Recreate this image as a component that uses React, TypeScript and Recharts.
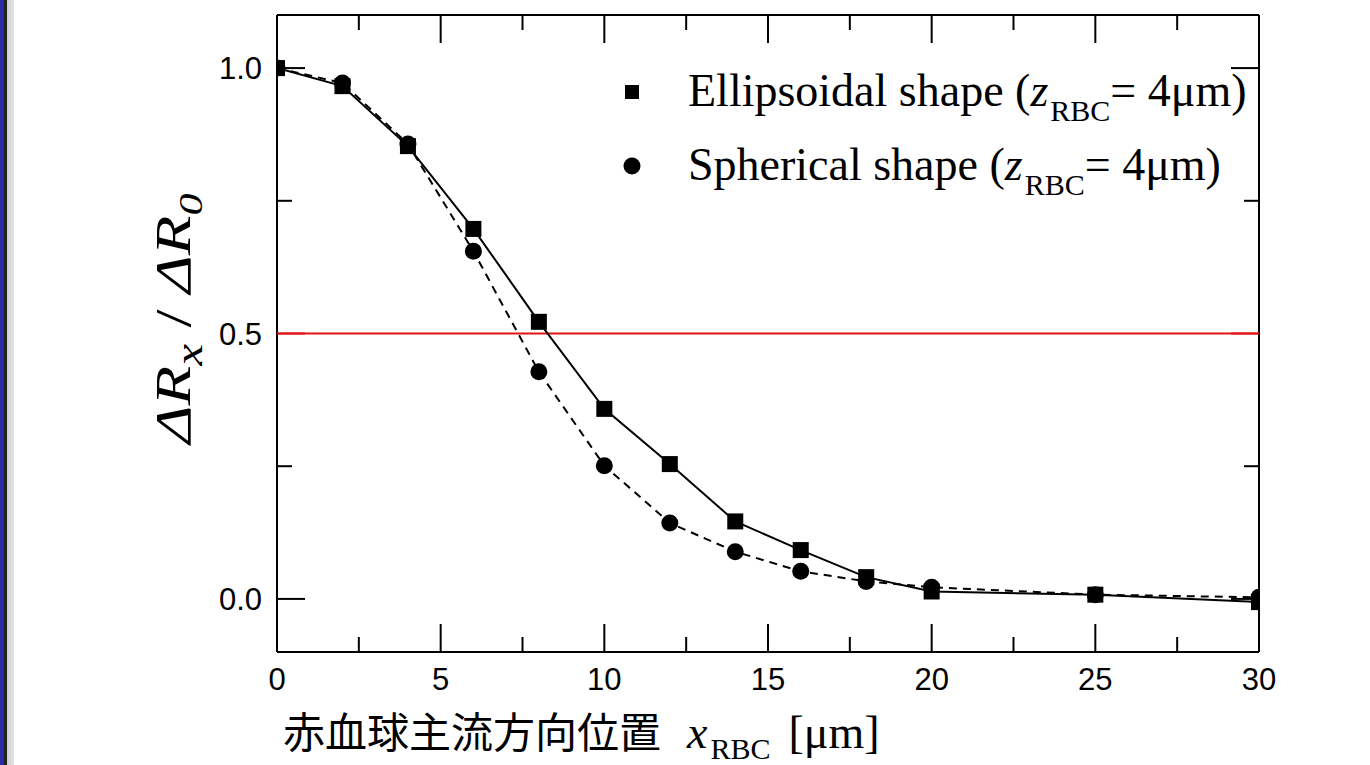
import React from 'react';
import { LineChart, Line, XAxis, YAxis, ReferenceLine, Legend } from 'recharts';

const xPositions = [0, 2, 4, 6, 8, 10, 12, 14, 16, 18, 20, 25, 30];
const ellipsoidalValues = [1.0, 0.966, 0.853, 0.697, 0.522, 0.358, 0.254, 0.146, 0.092, 0.041, 0.014, 0.008, -0.006];
const sphericalValues = [1.0, 0.972, 0.857, 0.655, 0.428, 0.251, 0.143, 0.089, 0.052, 0.033, 0.022, 0.008, 0.003];
const xTicks = [0, 2.5, 5, 7.5, 10, 12.5, 15, 17.5, 20, 22.5, 25, 27.5, 30];
const yTicks = [0, 0.25, 0.5, 0.75, 1.0];
const xMajor = [0, 5, 10, 15, 20, 25, 30];
const yMajor = [0, 0.5, 1.0];
const thresholdValue = 0.5;
const seriesNames = ['Ellipsoidal shape', 'Spherical shape'];

const data = xPositions.map((x, i) => ({ x, ellipsoidal: ellipsoidalValues[i], spherical: sphericalValues[i] }));

const SANS = '"Liberation Sans", Arial, sans-serif';
const SERIF = '"Liberation Serif", "Times New Roman", serif';
const CJK = '"Noto Sans CJK JP", sans-serif';
const RED = '#e01414';
const MAJOR = 28;
const MINOR = 15;

const BottomTick = (props: any) => {
  const { x, y, payload } = props;
  const major = xMajor.includes(payload.value);
  return (
    <g>
      <line x1={x} y1={y} x2={x} y2={y - (major ? MAJOR : MINOR)} stroke="#000" strokeWidth={2} />
      {major && (
        <text x={x} y={y + 38} textAnchor="middle" fontFamily={SANS} fontSize={31} fill="#000">
          {payload.value}
        </text>
      )}
    </g>
  );
};

const TopTick = (props: any) => {
  const { x, y, payload } = props;
  const major = xMajor.includes(payload.value);
  return <line x1={x} y1={y} x2={x} y2={y + (major ? MAJOR : MINOR)} stroke="#000" strokeWidth={2} />;
};

const LeftTick = (props: any) => {
  const { x, y, payload } = props;
  const major = yMajor.includes(payload.value);
  const col = payload.value === thresholdValue ? RED : '#000';
  return (
    <g>
      <line x1={x} y1={y} x2={x + (major ? MAJOR : MINOR)} y2={y} stroke={col} strokeWidth={2} />
      {major && (
        <text x={x - 15} y={y} dy="0.36em" textAnchor="end" fontFamily={SANS} fontSize={31} fill="#000">
          {payload.value.toFixed(1)}
        </text>
      )}
    </g>
  );
};

const RightTick = (props: any) => {
  const { x, y, payload } = props;
  const major = yMajor.includes(payload.value);
  const col = payload.value === thresholdValue ? RED : '#000';
  return <line x1={x} y1={y} x2={x - (major ? MAJOR : MINOR)} y2={y} stroke={col} strokeWidth={2} />;
};

const SquareDot = (props: any) => {
  const { cx, cy, index } = props;
  if (cx == null || cy == null) return <g key={`sq-${index}`} />;
  return <rect key={`sq-${index}`} x={cx - 8} y={cy - 8} width={16} height={16} fill="#000" />;
};

const CircleDot = (props: any) => {
  const { cx, cy, index } = props;
  if (cx == null || cy == null) return <g key={`ci-${index}`} />;
  return <circle key={`ci-${index}`} cx={cx} cy={cy} r={8.5} fill="#000" />;
};

const YLabel = (props: any) => {
  const vb = props.viewBox || {};
  const cx = 190;
  const cy = (vb.y ?? 15) + (vb.height ?? 637) / 2 - 15;
  return (
    <text
      x={cx}
      y={cy}
      transform={`rotate(-90, ${cx}, ${cy})`}
      textAnchor="middle"
      fontFamily={SERIF}
      fontSize={50}
      fill="#000"
      textLength={250}
      lengthAdjust="spacingAndGlyphs"
    >
      <tspan fontStyle="italic">ΔR</tspan>
      <tspan fontStyle="italic" fontSize={38} dy={12}>x</tspan>
      <tspan dy={-12}> / </tspan>
      <tspan fontStyle="italic">ΔR</tspan>
      <tspan fontStyle="italic" fontSize={34} dy={12}>0</tspan>
    </text>
  );
};

const XLabel = (props: any) => {
  const vb = props.viewBox || {};
  const left = vb.x ?? 277;
  const base = 748;
  return (
    <text x={left + 6} y={base} fontSize={42} fill="#000">
      <tspan fontFamily={CJK}>赤血球主流方向位置</tspan>
      <tspan fontFamily={SERIF} fontStyle="italic" fontSize={46} dx={26}>x</tspan>
      <tspan fontFamily={SERIF} fontSize={30} dy={11} dx={3}>RBC</tspan>
      <tspan fontFamily={SERIF} fontSize={46} dy={-11} dx={18}>[μm]</tspan>
    </text>
  );
};

const LegendContent = () => (
  <svg width={700} height={160} style={{ display: 'block' }}>
    <rect x={15} y={30} width={14} height={14} fill="#000" />
    <text x={78} y={51} fontFamily={SERIF} fontSize={46} fill="#000">
      {seriesNames[0]} (<tspan fontStyle="italic">z</tspan>
      <tspan fontSize={30} dy={15} dx={2}>RBC</tspan>
      <tspan dy={-15}>= 4μm)</tspan>
    </text>
    <circle cx={22} cy={111} r={8.5} fill="#000" />
    <text x={78} y={125} fontFamily={SERIF} fontSize={46} fill="#000">
      {seriesNames[1]} (<tspan fontStyle="italic">z</tspan>
      <tspan fontSize={30} dy={15} dx={2}>RBC</tspan>
      <tspan dy={-15}>= 4μm)</tspan>
    </text>
  </svg>
);

export default function App() {
  return (
    <div style={{ position: 'absolute', left: 0, top: 0, width: 1370, height: 765, background: '#fff', overflow: 'hidden' }}>
      <div style={{ position: 'absolute', left: 0, top: 0, width: 4, height: 765, background: '#2a2aa8' }} />
      <div style={{ position: 'absolute', left: 4, top: 0, width: 3, height: 765, background: '#222' }} />
      <div style={{ position: 'absolute', left: 7, top: 0, width: 7, height: 765, background: 'linear-gradient(to right, #cfcfcf, #e4e4e4)' }} />
      <LineChart
        width={1370}
        height={765}
        data={data}
        margin={{ top: 14, right: 110, bottom: 53, left: 217 }}
        style={{ position: 'absolute', left: 0, top: 0 }}
      >
        <XAxis
          xAxisId={0}
          dataKey="x"
          type="number"
          domain={[0, 30]}
          ticks={xTicks}
          interval={0}
          allowDataOverflow
          height={60}
          tickSize={0}
          tickMargin={0}
          tickLine={false}
          axisLine={{ stroke: '#000', strokeWidth: 2 }}
          tick={<BottomTick />}
          label={<XLabel />}
        />
        <XAxis
          xAxisId="top"
          orientation="top"
          dataKey="x"
          type="number"
          domain={[0, 30]}
          ticks={xTicks}
          interval={0}
          allowDataOverflow
          height={1}
          tickSize={0}
          tickMargin={0}
          tickLine={false}
          axisLine={{ stroke: '#000', strokeWidth: 2 }}
          tick={<TopTick />}
        />
        <YAxis
          yAxisId={0}
          type="number"
          domain={[-0.1, 1.1]}
          ticks={yTicks}
          interval={0}
          allowDataOverflow
          width={60}
          tickSize={0}
          tickMargin={0}
          tickLine={false}
          axisLine={{ stroke: '#000', strokeWidth: 2 }}
          tick={<LeftTick />}
          label={<YLabel />}
        />
        <YAxis
          yAxisId="right"
          orientation="right"
          type="number"
          domain={[-0.1, 1.1]}
          ticks={yTicks}
          interval={0}
          allowDataOverflow
          width={1}
          tickSize={0}
          tickMargin={0}
          tickLine={false}
          axisLine={{ stroke: '#000', strokeWidth: 2 }}
          tick={<RightTick />}
        />
        <ReferenceLine y={thresholdValue} stroke={RED} strokeWidth={2} />
        <Line
          dataKey="spherical"
          name={seriesNames[1]}
          type="linear"
          stroke="#000"
          strokeWidth={2}
          strokeDasharray="8 6"
          dot={<CircleDot />}
          activeDot={false}
          isAnimationActive={false}
        />
        <Line
          dataKey="ellipsoidal"
          name={seriesNames[0]}
          type="linear"
          stroke="#000"
          strokeWidth={2}
          dot={<SquareDot />}
          activeDot={false}
          isAnimationActive={false}
        />
        <Legend
          layout="horizontal"
          verticalAlign="middle"
          align="center"
          content={<LegendContent />}
          wrapperStyle={{ position: 'absolute', left: 610, top: 55, width: 700, height: 160 }}
        />
      </LineChart>
    </div>
  );
}
